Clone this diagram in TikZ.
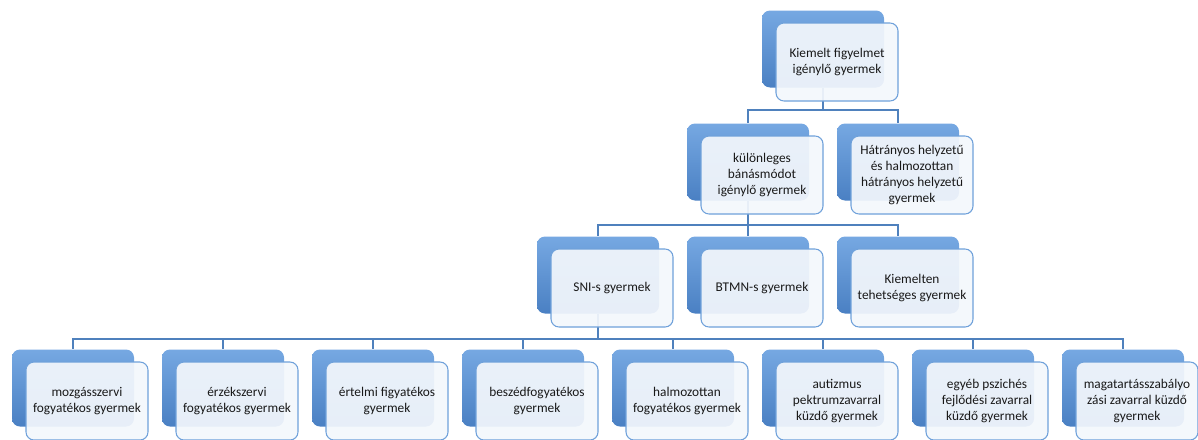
\documentclass[tikz,border=0pt]{standalone}
\usepackage{fontspec}
\setmainfont{Carlito}
\usepackage{xcolor}
\usetikzlibrary{calc, backgrounds}
\definecolor{lineblue}{HTML}{4F81BD}
\definecolor{backtop}{HTML}{76A8E2}
\definecolor{backbot}{HTML}{4A80C3}
\definecolor{frontfill}{HTML}{F3F7FC}
\definecolor{frontdraw}{HTML}{6FA1DA}

\begin{document}
\begin{tikzpicture}[
    x=0.75pt, y=-0.75pt,
    back/.style={
      rectangle, rounded corners=6pt,
      minimum width=91.5pt, minimum height=57.75pt,
      top color=backtop, bottom color=backbot
    },
    front/.style={
      rectangle, rounded corners=6pt, draw=frontdraw, line width=0.8pt,
      minimum width=91.5pt, minimum height=58.5pt,
      fill=frontfill, fill opacity=0.93, text opacity=1,
      align=center, text=black!90, font=\fontsize{10}{12}\selectfont
    },
    conn/.style={draw=lineblue, line width=1.6pt}
  ]
  \useasboundingbox (0,0) rectangle (1198,439);

  % level 0
  \node[back] (b0) at (823,49) {};
  \node[front] (f0) at ($(b0)+(14,13)$) {Kiemelt figyelmet\\igénylő gyermek};

  % level 1
  \node[back] (b11) at (748,162) {};
  \node[front] (f11) at ($(b11)+(14,13)$) {különleges\\bánásmódot\\igénylő gyermek};
  \node[back] (b12) at (898,162) {};
  \node[front] (f12) at ($(b12)+(14,13)$)
        {Hátrányos helyzetű\\és halmozottan\\hátrányos helyzetű\\gyermek};

  % level 2
  \node[back] (b21) at (598,275) {};
  \node[front] (f21) at ($(b21)+(14,13)$) {SNI-s gyermek};
  \node[back] (b22) at (748,275) {};
  \node[front] (f22) at ($(b22)+(14,13)$) {BTMN-s gyermek};
  \node[back] (b23) at (898,275) {};
  \node[front] (f23) at ($(b23)+(14,13)$) {Kiemelten\\tehetséges gyermek};

  % level 3
  \node[back] (b31) at (73,388) {};
  \node[front] (f31) at ($(b31)+(14,13)$) {mozgásszervi\\fogyatékos gyermek};
  \node[back] (b32) at (223,388) {};
  \node[front] (f32) at ($(b32)+(14,13)$) {érzékszervi\\fogyatékos gyermek};
  \node[back] (b33) at (373,388) {};
  \node[front] (f33) at ($(b33)+(14,13)$) {értelmi figyatékos\\gyermek};
  \node[back] (b34) at (523,388) {};
  \node[front] (f34) at ($(b34)+(14,13)$) {beszédfogyatékos\\gyermek};
  \node[back] (b35) at (673,388) {};
  \node[front] (f35) at ($(b35)+(14,13)$) {halmozottan\\fogyatékos gyermek};
  \node[back] (b36) at (823,388) {};
  \node[front] (f36) at ($(b36)+(14,13)$) {autizmus\\pektrumzavarral\\küzdő gyermek};
  \node[back] (b37) at (973,388) {};
  \node[front] (f37) at ($(b37)+(14,13)$) {egyéb pszichés\\fejlődési zavarral\\küzdő gyermek};
  \node[back] (b38) at (1123,388) {};
  \node[front] (f38) at ($(b38)+(14,13)$) {magatartásszabályo\\zási zavarral küzdő\\gyermek};

  % connectors
  \begin{scope}[on background layer]
    \draw[conn] (b0.south) -- ++(0,22) -| (b11.north);
    \draw[conn] (b0.south) -- ++(0,22) -| (b12.north);
    \draw[conn] (b11.south) -- ++(0,24) -| (b21.north);
    \draw[conn] (b11.south) -- ++(0,24) -| (b22.north);
    \draw[conn] (b11.south) -- ++(0,24) -| (b23.north);
    \draw[conn] (b21.south) -- ++(0,25) -| (b31.north);
    \draw[conn] (b21.south) -- ++(0,25) -| (b32.north);
    \draw[conn] (b21.south) -- ++(0,25) -| (b33.north);
    \draw[conn] (b21.south) -- ++(0,25) -| (b34.north);
    \draw[conn] (b21.south) -- ++(0,25) -| (b35.north);
    \draw[conn] (b21.south) -- ++(0,25) -| (b36.north);
    \draw[conn] (b21.south) -- ++(0,25) -| (b37.north);
    \draw[conn] (b21.south) -- ++(0,25) -| (b38.north);
  \end{scope}
\end{tikzpicture}
\end{document}
